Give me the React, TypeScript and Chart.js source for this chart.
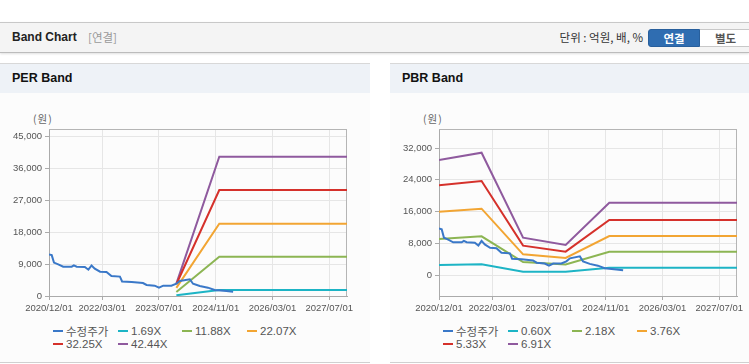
import React, { useEffect, useRef } from "react";
import { Chart, registerables } from "chart.js";

Chart.register(...registerables);

// ---------- data ----------
const xTickLabels = ["2020/12/01", "2022/03/01", "2023/07/01", "2024/11/01", "2026/03/01", "2027/07/01"];
const xStart = "2020/12/01";
const xEnd = "2027/12/01";

const priceName = "수정주가";
const priceDates = [
  "2020/12/01", "2020/12/24", "2021/01/13", "2021/02/19", "2021/04/01", "2021/06/13", "2021/07/01",
  "2021/07/25", "2021/10/04", "2021/11/04", "2021/12/01", "2021/12/28", "2022/02/13", "2022/04/07",
  "2022/05/19", "2022/08/01", "2022/08/19", "2022/11/10", "2023/02/16", "2023/03/16", "2023/05/25",
  "2023/07/01", "2023/08/07", "2023/10/16", "2023/11/28", "2023/12/28", "2024/03/22", "2024/04/19",
  "2024/06/16", "2024/08/25", "2024/10/22", "2025/02/01", "2025/03/28",
];
const priceValues = [
  11700, 11500, 9400, 8900, 8250, 8250, 8600,
  8250, 8150, 7400, 8600, 7700, 6850, 6750,
  5600, 5450, 4100, 3950, 3650, 3100, 2900,
  2350, 2900, 2900, 3450, 4200, 4700, 3450,
  2800, 2350, 1700, 1400, 1200,
];

const perBandNames = ["1.69X", "11.88X", "22.07X", "32.25X", "42.44X"];
const perBandDates = ["2023/11/28", "2024/12/01", "2027/12/01"];
const per169 = [200, 1700, 1700];
const per1188 = [1150, 11050, 11050];
const per2207 = [2300, 20350, 20350];
const per3225 = [3300, 29800, 29800];
const per4244 = [3500, 39200, 39200];
const perYTicks = [0, 9000, 18000, 27000, 36000, 45000];
const perYMin = 0;
const perYMax = 46970;

const pbrBandNames = ["0.60X", "2.18X", "3.76X", "5.33X", "6.91X"];
const pbrBandDates = ["2020/12/01", "2021/12/01", "2022/11/22", "2023/11/22", "2024/12/01", "2027/12/01"];
const pbr060 = [2500, 2700, 840, 840, 1850, 1850];
const pbr218 = [9070, 9750, 3280, 2650, 5880, 5880];
const pbr376 = [15960, 16710, 5210, 4300, 9830, 9830];
const pbr533 = [22600, 23690, 7400, 5880, 13860, 13860];
const pbr691 = [28980, 30820, 9400, 7560, 18220, 18220];
const pbrYTicks = [0, 8000, 16000, 24000, 32000];
const pbrYMin = -5290;
const pbrYMax = 36790;

const colors = ["#3a78c8", "#1db4c5", "#8cb553", "#f2a533", "#d5312b", "#8f5a9e"];

// ---------- helpers ----------
function toMonth(d: string): number {
  const [y, m, dd] = d.split("/").map(Number);
  return (y - 2020) * 12 + (m - 12) + (dd - 1) / 30;
}

function pts(dates: string[], values: number[]) {
  return dates.map((d, i) => ({ x: toMonth(d), y: values[i] }));
}

const tickFont = { family: "'Liberation Sans', Arial, sans-serif", size: 9.5 };

const boxPlugin = {
  id: "plotBox",
  beforeDatasetsDraw(chart: any) {
    const { ctx, chartArea: a } = chart;
    ctx.save();
    ctx.strokeStyle = "#b5b5b5";
    ctx.lineWidth = 1;
    ctx.beginPath();
    ctx.moveTo(Math.round(a.left), Math.round(a.top) + 0.5);
    ctx.lineTo(Math.round(a.right), Math.round(a.top) + 0.5);
    ctx.moveTo(Math.round(a.right) - 0.5, Math.round(a.top));
    ctx.lineTo(Math.round(a.right) - 0.5, Math.round(a.bottom));
    ctx.stroke();
    ctx.restore();
  },
};

type Series = { label: string; data: { x: number; y: number }[]; color: string };

function BandChart(props: {
  series: Series[];
  yMin: number;
  yMax: number;
  yTicks: number[];
  width: number;
  height: number;
  padRight: number;
}) {
  const ref = useRef<HTMLCanvasElement>(null);
  useEffect(() => {
    const xTickVals = xTickLabels.map(toMonth);
    const chart = new Chart(ref.current as HTMLCanvasElement, {
      type: "line",
      data: {
        datasets: props.series.map((s) => ({
          label: s.label,
          data: s.data,
          borderColor: s.color,
          backgroundColor: s.color,
          borderWidth: 2,
          pointRadius: 0,
          tension: 0,
          fill: false,
        })),
      },
      options: {
        animation: false,
        responsive: false,
        maintainAspectRatio: false,
        events: [],
        layout: { padding: { top: 10, right: props.padRight, left: 0, bottom: 0 } },
        plugins: { legend: { display: false }, tooltip: { enabled: false }, title: { display: false } },
        scales: {
          x: {
            type: "linear",
            min: toMonth(xStart),
            max: toMonth(xEnd),
            afterBuildTicks: (scale: any) => {
              scale.ticks = xTickVals.map((v) => ({ value: v }));
            },
            afterFit: (scale: any) => {
              scale.height = 23;
            },
            ticks: {
              autoSkip: false,
              maxRotation: 0,
              minRotation: 0,
              padding: 3,
              color: "#555",
              font: tickFont,
              callback: (_v: any, i: number) => xTickLabels[i],
            },
            grid: { color: "#e6e6e6", tickColor: "#aaa", tickLength: 4, drawTicks: true },
            border: { display: true, color: "#aaa", width: 1 },
          },
          y: {
            type: "linear",
            min: props.yMin,
            max: props.yMax,
            afterBuildTicks: (scale: any) => {
              scale.ticks = props.yTicks.map((v) => ({ value: v }));
            },
            afterFit: (scale: any) => {
              scale.width = 49;
            },
            ticks: {
              padding: 3,
              color: "#555",
              font: tickFont,
              callback: (v: any) => Number(v).toLocaleString("en-US"),
            },
            grid: { color: "#e6e6e6", tickColor: "#aaa", tickLength: 4, drawTicks: true },
            border: { display: true, color: "#aaa", width: 1 },
          },
        },
      },
      plugins: [boxPlugin],
    } as any);
    return () => chart.destroy();
  }, []);
  return (
    <canvas
      ref={ref}
      width={props.width}
      height={props.height}
      style={{ width: props.width, height: props.height, display: "block" }}
    />
  );
}

const legendCols = [53, 118, 182, 247];
const legendRows = [330, 343];

function Legend(props: { items: { label: string; color: string }[] }) {
  return (
    <>
      {props.items.map((it, i) => {
        const col = legendCols[i % 4];
        const row = legendRows[Math.floor(i / 4)];
        return (
          <div
            key={it.label}
            style={{
              position: "absolute",
              left: col,
              top: row - 63 - 8,
              height: 16,
              display: "flex",
              alignItems: "center",
              whiteSpace: "nowrap",
              fontFamily: "'Liberation Sans', 'Noto Sans CJK KR', Arial, sans-serif",
              fontSize: 11.5,
              color: "#555",
            }}
          >
            <span style={{ display: "inline-block", width: 10, height: 2, background: it.color, marginRight: 3 }} />
            <span>{it.label}</span>
          </div>
        );
      })}
    </>
  );
}

function Panel(props: {
  left: number;
  width: number;
  title: string;
  series: Series[];
  yMin: number;
  yMax: number;
  yTicks: number[];
  padRight: number;
}) {
  return (
    <div
      style={{
        position: "absolute",
        left: props.left,
        top: 63,
        width: props.width,
        height: 300,
        background: "#fcfcfc",
        borderTop: "1px solid #d8d8d8",
        borderBottom: "1px solid #d0d0d0",
        boxSizing: "border-box",
      }}
    >
      <div
        style={{
          position: "absolute",
          left: 0,
          top: 0,
          width: "100%",
          height: 29,
          background: "#eef2f7",
        }}
      >
        <div
          style={{
            position: "absolute",
            left: 12,
            top: 0,
            height: 29,
            lineHeight: "29px",
            fontFamily: "'Liberation Sans', Arial, sans-serif",
            fontWeight: "bold",
            fontSize: 12.5,
            color: "#111",
          }}
        >
          {props.title}
        </div>
      </div>
      <div
        style={{
          position: "absolute",
          left: 33,
          top: 118 - 63 - 8,
          height: 16,
          lineHeight: "16px",
          fontFamily: "'Noto Sans CJK KR', sans-serif",
          fontSize: 10.5,
          color: "#666",
          letterSpacing: 1,
        }}
      >
        (원)
      </div>
      <div style={{ position: "absolute", left: 0, top: 118 - 63 }}>
        <BandChart
          series={props.series}
          yMin={props.yMin}
          yMax={props.yMax}
          yTicks={props.yTicks}
          width={props.width}
          height={200}
          padRight={props.padRight}
        />
      </div>
      <Legend items={props.series.map((s) => ({ label: s.label, color: s.color }))} />
    </div>
  );
}

export default function App() {
  const priceSeries: Series = { label: priceName, data: pts(priceDates, priceValues), color: colors[0] };
  const perVals = [per169, per1188, per2207, per3225, per4244];
  const perSeries: Series[] = [
    priceSeries,
    ...perBandNames.map((n, i) => ({ label: n, data: pts(perBandDates, perVals[i]), color: colors[i + 1] })),
  ];
  const pbrVals = [pbr060, pbr218, pbr376, pbr533, pbr691];
  const pbrSeries: Series[] = [
    { ...priceSeries },
    ...pbrBandNames.map((n, i) => ({ label: n, data: pts(pbrBandDates, pbrVals[i]), color: colors[i + 1] })),
  ];

  return (
    <div
      style={{
        position: "absolute",
        left: 0,
        top: 0,
        width: 749,
        height: 364,
        overflow: "hidden",
        background: "#fff",
      }}
    >
      {/* header bar */}
      <div
        style={{
          position: "absolute",
          left: 0,
          top: 22,
          width: 749,
          height: 31,
          boxSizing: "border-box",
          background: "#f4f4f4",
          borderTop: "1px solid #c8c8c8",
          borderBottom: "1px solid #bcbcbc",
          boxShadow: "0 1px 2px rgba(0,0,0,0.12)",
        }}
      >
        <div
          style={{
            position: "absolute",
            left: 12,
            top: 0,
            height: 29,
            lineHeight: "29px",
            fontFamily: "'Liberation Sans', Arial, sans-serif",
            fontWeight: "bold",
            fontSize: 12,
            color: "#222",
          }}
        >
          Band Chart
        </div>
        <div
          style={{
            position: "absolute",
            left: 88,
            top: 0,
            height: 29,
            lineHeight: "29px",
            fontFamily: "'Noto Sans CJK KR', sans-serif",
            fontSize: 11.5,
            color: "#999",
          }}
        >
          [연결]
        </div>
        <div
          style={{
            position: "absolute",
            right: 749 - 643,
            top: 0,
            height: 29,
            lineHeight: "29px",
            fontFamily: "'Noto Sans CJK KR', sans-serif",
            fontSize: 11.5,
            color: "#333",
            whiteSpace: "nowrap",
          }}
        >
          단위 : 억원, 배, %
        </div>
        <div
          style={{
            position: "absolute",
            left: 648,
            top: 6,
            width: 52,
            height: 18,
            boxSizing: "border-box",
            background: "#2f6db1",
            border: "1px solid #285f9c",
            borderRadius: "3px 0 0 3px",
            color: "#fff",
            fontFamily: "'Noto Sans CJK KR', sans-serif",
            fontWeight: "bold",
            fontSize: 11.5,
            lineHeight: "16px",
            textAlign: "center",
          }}
        >
          연결
        </div>
        <div
          style={{
            position: "absolute",
            left: 700,
            top: 6,
            width: 52,
            height: 18,
            boxSizing: "border-box",
            background: "#fff",
            border: "1px solid #c8c8c8",
            borderLeft: "none",
            color: "#555",
            fontFamily: "'Noto Sans CJK KR', sans-serif",
            fontWeight: "bold",
            fontSize: 11.5,
            lineHeight: "16px",
            textAlign: "center",
          }}
        >
          별도
        </div>
      </div>

      <Panel
        left={0}
        width={370}
        title="PER Band"
        series={perSeries}
        yMin={perYMin}
        yMax={perYMax}
        yTicks={perYTicks}
        padRight={23}
      />
      <Panel
        left={390}
        width={359}
        title="PBR Band"
        series={pbrSeries}
        yMin={pbrYMin}
        yMax={pbrYMax}
        yTicks={pbrYTicks}
        padRight={12}
      />
    </div>
  );
}
